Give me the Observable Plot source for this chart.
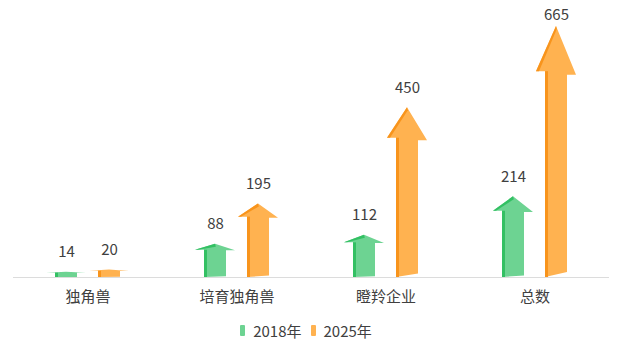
<!DOCTYPE html>
<html><head><meta charset="utf-8">
<script src="https://cdn.jsdelivr.net/npm/d3@7"></script>
<script src="https://cdn.jsdelivr.net/npm/@observablehq/plot@0.6"></script>
<style>
body{margin:0;background:#fff;font-family:"Noto Sans CJK SC","Noto Sans",sans-serif;}
#chart{width:634px;height:310px;}
#legend{display:flex;justify-content:center;align-items:center;height:20px;margin-top:10px;padding-right:22px;font-size:15px;color:#404040;}
#legend .item{display:flex;align-items:center;margin:0 4.5px;}
#legend .sw{width:5px;height:11px;border-radius:1px;margin-right:8px;}
</style></head><body>
<div id="chart"></div>
<div id="legend"></div>
<script>
const categories = ["独角兽", "培育独角兽", "瞪羚企业", "总数"];
const seriesNames = ["2018年", "2025年"];
const values2018 = [14, 88, 112, 214];
const values2025 = [20, 195, 450, 665];
const seriesColors = ["#6dd392", "#ffb250"];
const seriesShades = ["#33c063", "#f8941c"];

const data = [];
categories.forEach((c, i) => {
  data.push({cat: c, series: seriesNames[0], value: values2018[i]});
  data.push({cat: c, series: seriesNames[1], value: values2025[i]});
});

function arrows(index, scales, values) {
  const g = d3.create("svg:g");
  const bw = scales.x.bandwidth();
  const sw = bw / 2, hw = 20;
  for (const i of index) {
    const s = seriesNames.indexOf(data[i].series);
    const cx = values.x[i] + bw / 2;
    const yb = Math.max(values.y1[i], values.y2[i]);
    const yt = Math.min(values.y1[i], values.y2[i]);
    const h = yb - yt;
    const hh = h * 0.18;
    const slant = Math.min(5, h * 0.02);
    const yh = yt + hh;
    const pts = [
      [cx - sw, yb], [cx - sw, yh], [cx - hw, yh], [cx, yt],
      [cx + hw, yh + hh * 0.08], [cx + sw, yh + hh * 0.08], [cx + sw, yb - slant]
    ];
    g.append("path").attr("d", "M" + pts.map(p => p.join(",")).join("L") + "Z")
      .attr("fill", seriesColors[s]);
    g.append("path").attr("d", `M${cx - sw},${yb}L${cx - sw},${yh}L${cx - sw + 3},${yh}L${cx - sw + 3},${yb}Z`)
      .attr("fill", seriesShades[s]);
    if (h > 12) {
      g.append("path").attr("d", `M${cx},${yt}L${cx - hw},${yh}L${cx - hw + 3},${yh}L${cx + 0.8},${yt + 3}Z`)
        .attr("fill", seriesShades[s]);
    }
  }
  return g.node();
}

const plot = Plot.plot({
  width: 634,
  height: 310,
  marginLeft: 13,
  marginRight: 25,
  marginTop: 26,
  marginBottom: 33,
  style: {fontFamily: '"Noto Sans CJK SC", sans-serif', background: "#fff"},
  fx: {domain: categories, padding: 0, axis: "bottom", tickSize: 0, tickPadding: 14, label: null},
  x: {domain: seriesNames, axis: null, paddingInner: 0.5, paddingOuter: 0.98},
  y: {domain: [0, 665], axis: null},
  color: {domain: seriesNames, range: seriesColors},
  marks: [
    Plot.ruleY([0], {stroke: "#dcdcdc", strokeWidth: 1}),
    Plot.barY(data, {fx: "cat", x: "series", y: "value", fill: "series", render: arrows}),
    Plot.text(data, {fx: "cat", x: "series", y: d => Math.min(d.value + 52, 695), text: d => String(d.value), fontSize: 15, fill: "#404040"})
  ]
});
plot.querySelectorAll('[aria-label="fx-axis tick label"] text').forEach(t => { t.style.fontSize = "15px"; t.setAttribute("fill", "#404040"); });
document.getElementById("chart").appendChild(plot);

const legend = document.getElementById("legend");
seriesNames.forEach((n, i) => {
  const item = document.createElement("div");
  item.className = "item";
  const sw = document.createElement("span");
  sw.className = "sw";
  sw.style.background = seriesColors[i];
  const tx = document.createElement("span");
  tx.textContent = n;
  item.appendChild(sw); item.appendChild(tx);
  legend.appendChild(item);
});
</script>
</body></html>
